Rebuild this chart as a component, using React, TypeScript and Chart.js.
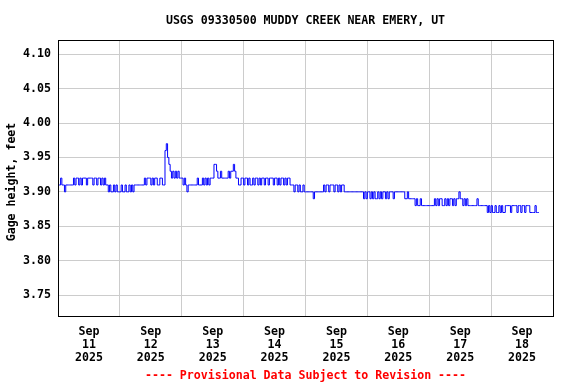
import { useEffect, useRef } from 'react';
import { Chart, registerables } from 'chart.js';

Chart.register(...registerables);

const TITLE = 'USGS 09330500 MUDDY CREEK NEAR EMERY, UT';
const Y_LABEL = 'Gage height, feet';
const FOOTER = '---- Provisional Data Subject to Revision ----';
const MONTH = 'Sep';
const YEAR = '2025';
const DAY_NUMBERS = [11, 12, 13, 14, 15, 16, 17, 18];
const Y_TICKS = [3.75, 3.8, 3.85, 3.9, 3.95, 4.0, 4.05, 4.1];
const Y_MIN = 3.7195;
const Y_MAX = 4.1208;
const STEP_HOURS = 0.5; // readings every 30 minutes

// Gage height (ft), one value per half hour, starting at 00:00 of each day
const sep11 = [
  3.91, 3.91, 3.91, 3.92, 3.91, 3.91, 3.90, 3.91, 3.91, 3.91, 3.91, 3.91, 3.91,
  3.92, 3.91, 3.92, 3.92, 3.91, 3.92, 3.91, 3.92, 3.92, 3.92, 3.91, 3.92, 3.92,
  3.92, 3.92, 3.91, 3.92, 3.92, 3.91, 3.92, 3.92, 3.91, 3.92, 3.91, 3.92,
  3.91, 3.91,
  3.90, 3.91, 3.90, 3.90, 3.91, 3.90, 3.91, 3.90,
];
const sep12 = [
  3.90, 3.90, 3.91, 3.90, 3.90, 3.91, 3.90, 3.90, 3.91, 3.90, 3.91, 3.90,
  3.91, 3.91, 3.91, 3.91, 3.91, 3.91, 3.91, 3.91,
  3.92, 3.91, 3.92, 3.92, 3.92, 3.91, 3.92, 3.91, 3.92, 3.92, 3.91, 3.91, 3.92, 3.92,
  3.91, 3.91, 3.96, 3.97, 3.95, 3.94,
  3.93, 3.92, 3.93, 3.92, 3.93, 3.92, 3.93, 3.92,
];
const sep13 = [
  3.92, 3.92, 3.91, 3.92, 3.91, 3.90,
  3.91, 3.91, 3.91, 3.91, 3.91, 3.91, 3.91,
  3.92, 3.91, 3.91, 3.91, 3.92, 3.91, 3.92, 3.91, 3.92, 3.91, 3.92, 3.92, 3.92,
  3.94, 3.94, 3.93, 3.92, 3.92, 3.93,
  3.92, 3.92, 3.92, 3.92, 3.92,
  3.93, 3.92, 3.93, 3.93, 3.94, 3.93, 3.92, 3.92, 3.91, 3.91, 3.92,
];
const sep14 = [
  3.92, 3.91, 3.92, 3.92, 3.91, 3.92, 3.91, 3.91, 3.92, 3.91,
  3.92, 3.92, 3.91, 3.92, 3.91, 3.92, 3.92, 3.91, 3.92, 3.92,
  3.91, 3.92, 3.92, 3.92, 3.91, 3.92, 3.92, 3.91, 3.92, 3.91,
  3.92, 3.92, 3.91, 3.92, 3.91, 3.92, 3.92, 3.91, 3.91, 3.91,
  3.90, 3.91, 3.91, 3.90, 3.91, 3.90, 3.90, 3.91,
];
const sep15 = [
  3.90, 3.90, 3.90, 3.90, 3.90, 3.90, 3.90, 3.89,
  3.90, 3.90, 3.90, 3.90, 3.90, 3.90, 3.90,
  3.91, 3.90, 3.91, 3.91, 3.90, 3.91, 3.91, 3.91, 3.90, 3.91, 3.91, 3.90, 3.91,
  3.90, 3.91, 3.91, 3.90,
  3.90, 3.90, 3.90, 3.90, 3.90, 3.90, 3.90, 3.90, 3.90, 3.90, 3.90, 3.90, 3.90, 3.90,
  3.89, 3.90,
];
const sep16 = [
  3.89, 3.90, 3.90, 3.89, 3.90, 3.89, 3.90, 3.89, 3.89, 3.90,
  3.89, 3.90, 3.89, 3.90, 3.90, 3.89, 3.90, 3.89, 3.90, 3.90,
  3.90, 3.89, 3.90, 3.90, 3.90, 3.90, 3.90, 3.90, 3.90, 3.90,
  3.89, 3.89, 3.90, 3.89, 3.89, 3.89, 3.89, 3.89,
  3.88, 3.89, 3.88, 3.88, 3.89, 3.88, 3.88,
  3.88, 3.88, 3.88,
];
const sep17 = [
  3.88, 3.88, 3.88, 3.88, 3.88, 3.89,
  3.88, 3.89, 3.88, 3.89, 3.89, 3.88, 3.88, 3.89, 3.88, 3.89, 3.88, 3.89, 3.89, 3.88, 3.89, 3.88,
  3.89, 3.89, 3.90,
  3.89, 3.89, 3.88, 3.89, 3.88, 3.89, 3.88, 3.88,
  3.88, 3.88, 3.88, 3.88, 3.88, 3.89,
  3.88, 3.88, 3.88, 3.88, 3.88, 3.88, 3.88,
  3.87, 3.88,
];
const sep18 = [
  3.87, 3.88, 3.87, 3.87, 3.88, 3.87, 3.87, 3.88, 3.87, 3.88,
  3.87, 3.87, 3.88, 3.88, 3.88, 3.88, 3.87, 3.88, 3.88, 3.88,
  3.88, 3.87, 3.88, 3.88, 3.87, 3.88, 3.88, 3.87, 3.88, 3.88,
  3.88, 3.87, 3.87, 3.87, 3.87, 3.88, 3.87, 3.87,
];
const DAYS = [sep11, sep12, sep13, sep14, sep15, sep16, sep17, sep18];

const FONT = '"DejaVu Sans Mono", monospace';

export default function App() {
  const ref = useRef<HTMLCanvasElement | null>(null);

  useEffect(() => {
    document.body.style.margin = '0';
    const canvas = ref.current;
    if (!canvas) return;

    const points = DAYS.flatMap((vals, d) =>
      vals.map((v, i) => ({ x: d * 24 + i * STEP_HOURS, y: v }))
    );
    const xTicks: number[] = [];
    for (let h = 0; h <= DAY_NUMBERS.length * 24; h += 12) xTicks.push(h);

    const decor = {
      id: 'decor',
      afterDraw(chart: any) {
        const { ctx, chartArea } = chart;
        const cx = (chartArea.left + chartArea.right) / 2;
        ctx.save();
        ctx.strokeStyle = '#000';
        ctx.lineWidth = 1;
        ctx.strokeRect(
          Math.round(chartArea.left) + 0.5,
          Math.round(chartArea.top) + 0.5,
          Math.round(chartArea.right - chartArea.left),
          Math.round(chartArea.bottom - chartArea.top)
        );
        ctx.fillStyle = '#000';
        ctx.font = 'bold 11.6px ' + FONT;
        ctx.textAlign = 'center';
        ctx.textBaseline = 'middle';
        ctx.fillText(TITLE, cx, 21);
        ctx.save();
        ctx.translate(12, 182);
        ctx.rotate(-Math.PI / 2);
        ctx.fillText(Y_LABEL, 0, 0);
        ctx.restore();
        ctx.fillStyle = '#ff0000';
        ctx.fillText(FOOTER, cx, 376);
        ctx.restore();
      },
    };

    const chart = new Chart(canvas, {
      type: 'line',
      data: {
        datasets: [
          {
            data: points,
            borderColor: '#0000ff',
            borderWidth: 1,
            pointRadius: 0,
            stepped: 'after',
            fill: false,
          },
        ],
      },
      options: {
        animation: false,
        responsive: false,
        devicePixelRatio: 1,
        layout: { padding: { left: 0, right: 23, top: 40, bottom: 0 } },
        plugins: { legend: { display: false }, tooltip: { enabled: false } },
        scales: {
          x: {
            type: 'linear',
            min: 0,
            max: DAY_NUMBERS.length * 24,
            afterBuildTicks: (scale: any) => {
              scale.ticks = xTicks.map((v) => ({ value: v }));
            },
            afterFit: (scale: any) => {
              scale.height = 68;
            },
            border: { display: false },
            grid: {
              drawTicks: false,
              color: (c: any) =>
                c.tick && c.tick.value % 24 === 0 ? '#cccccc' : 'rgba(0,0,0,0)',
            },
            ticks: {
              autoSkip: false,
              maxRotation: 0,
              padding: 10,
              color: '#000',
              font: { family: FONT, size: 11.6, weight: 'bold', lineHeight: 1.09 },
              callback: (v: any) => {
                const n = Number(v);
                if (n % 24 !== 12) return '';
                const d = Math.floor(n / 24);
                return [MONTH, String(DAY_NUMBERS[d]), YEAR];
              },
            },
          },
          y: {
            type: 'linear',
            min: Y_MIN,
            max: Y_MAX,
            afterBuildTicks: (scale: any) => {
              scale.ticks = Y_TICKS.map((v) => ({ value: v }));
            },
            afterFit: (scale: any) => {
              scale.width = 58;
            },
            border: { display: false },
            grid: { drawTicks: false, color: '#cccccc' },
            ticks: {
              padding: 7,
              color: '#000',
              font: { family: FONT, size: 11.6, weight: 'bold' },
              callback: (v: any) => Number(v).toFixed(2),
            },
          },
        },
      },
      plugins: [decor],
    });

    return () => chart.destroy();
  }, []);

  return (
    <canvas
      ref={ref}
      width={576}
      height={384}
      style={{ display: 'block', width: 576, height: 384 }}
    />
  );
}
